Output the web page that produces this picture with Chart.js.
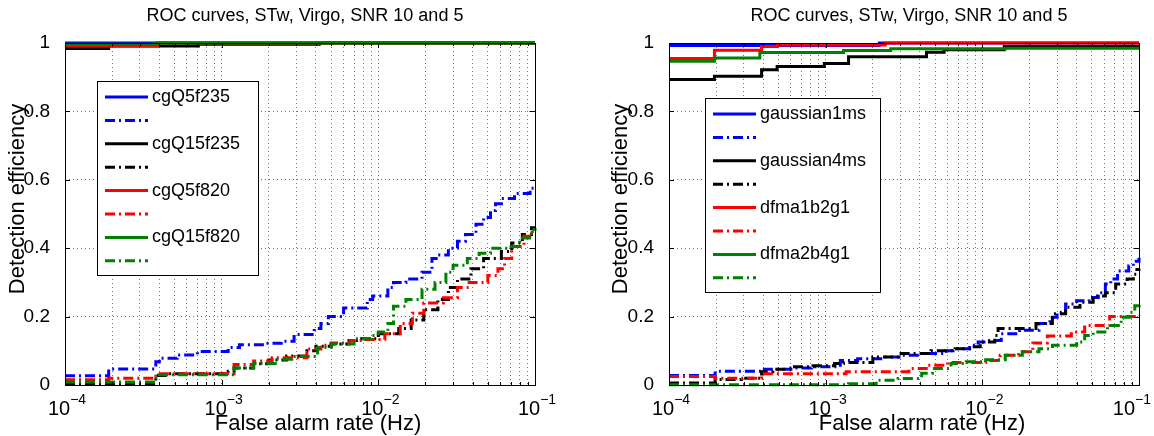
<!DOCTYPE html>
<html>
<head>
<meta charset="utf-8">
<script src="https://cdn.jsdelivr.net/npm/chart.js@4.4.1/dist/chart.umd.min.js"></script>
<style>
  body { margin: 0; background: #fff; width: 1154px; height: 436px; position: relative; overflow: hidden; }
  .panel { position: absolute; top: 0; width: 577px; height: 436px; }
  #leftPanel { left: 0; }
  #rightPanel { left: 577px; }
</style>
</head>
<body>
<div class="panel" id="leftPanel"><canvas id="rocLeft"></canvas></div>
<div class="panel" id="rightPanel"><canvas id="rocRight"></canvas></div>
<script>
// x axis: false alarm rate, log scale
const decades = [1e-4, 1e-3, 1e-2, 1e-1];
const minorSteps = [2, 3, 4, 5, 6, 7, 8, 9];
const yTicks = [0, 0.2, 0.4, 0.6, 0.8, 1];

const chartTitle = "ROC curves, STw, Virgo, SNR 10 and 5";
const xLabel = "False alarm rate (Hz)";
const yLabel = "Detection efficiency";

// left panel: [false alarm rate, efficiency] at each step (SNR 10 solid, SNR 5 dash-dot)
const leftNames = ["cgQ5f235", "cgQ15f235", "cgQ5f820", "cgQ15f820"];
const cgQ5f235Snr10 = [[1e-4, 1], [1e-1, 1]];
const cgQ5f235Snr5 = [[1e-4, 0.027], [1.9e-4, 0.047], [3.8e-4, 0.068], [4.0e-4, 0.078], [5.2e-4, 0.088],
  [7e-4, 0.098], [1.1e-3, 0.11], [1.3e-3, 0.118], [1.9e-3, 0.122], [2.4e-3, 0.128], [2.9e-3, 0.148],
  [3.9e-3, 0.165], [4.3e-3, 0.18], [4.8e-3, 0.2], [6e-3, 0.225], [8.5e-3, 0.25], [9.2e-3, 0.26],
  [1.15e-2, 0.285], [1.25e-2, 0.3], [1.5e-2, 0.31], [1.9e-2, 0.33], [2.2e-2, 0.37], [2.4e-2, 0.38],
  [2.8e-2, 0.4], [3.2e-2, 0.42], [3.6e-2, 0.44], [4.2e-2, 0.47], [4.7e-2, 0.49], [5.2e-2, 0.51],
  [5.6e-2, 0.53], [6.1e-2, 0.545], [7.4e-2, 0.56], [9.3e-2, 0.575], [1e-1, 0.58]];
const cgQ15f235Snr10 = [[1e-4, 0.984], [1.9e-4, 0.991], [7.1e-4, 0.996], [4.2e-3, 1], [1e-1, 1]];
const cgQ15f235Snr5 = [[1e-4, 0.004], [3.8e-4, 0.028], [4.6e-4, 0.033], [1.1e-3, 0.04], [1.2e-3, 0.05],
  [1.6e-3, 0.062], [2e-3, 0.073], [2.6e-3, 0.085], [3.5e-3, 0.1], [4e-3, 0.113], [5e-3, 0.12],
  [6.5e-3, 0.13], [7.5e-3, 0.135], [1e-2, 0.15], [1.35e-2, 0.165], [1.62e-2, 0.19], [1.95e-2, 0.22],
  [2.4e-2, 0.25], [2.8e-2, 0.285], [3.2e-2, 0.31], [3.9e-2, 0.34], [4.7e-2, 0.37], [6.1e-2, 0.39],
  [7.1e-2, 0.415], [8.3e-2, 0.44], [9.5e-2, 0.46], [1e-1, 0.46]];
const cgQ5f820Snr10 = [[1e-4, 0.991], [3.9e-4, 1], [1e-1, 1]];
const cgQ5f820Snr5 = [[1e-4, 0.015], [1.9e-4, 0.02], [3.8e-4, 0.033], [1.2e-3, 0.06], [1.6e-3, 0.07],
  [2.1e-3, 0.08], [3.5e-3, 0.105], [4.3e-3, 0.116], [5e-3, 0.123], [6.6e-3, 0.13], [8.2e-3, 0.133],
  [1.1e-2, 0.15], [1.38e-2, 0.18], [1.65e-2, 0.21], [1.95e-2, 0.24], [2.6e-2, 0.255], [3.2e-2, 0.285],
  [3.8e-2, 0.3], [5e-2, 0.32], [5.8e-2, 0.34], [6.4e-2, 0.37], [7.1e-2, 0.405], [8.5e-2, 0.435],
  [9.6e-2, 0.455], [1e-1, 0.455]];
const cgQ15f820Snr10 = [[1e-4, 0.996], [3.8e-4, 1], [1e-1, 1]];
const cgQ15f820Snr5 = [[1e-4, 0.009], [3.8e-4, 0.03], [1.2e-3, 0.05], [1.6e-3, 0.063], [2.2e-3, 0.075],
  [2.8e-3, 0.083], [4.1e-3, 0.11], [5e-3, 0.12], [7e-3, 0.135], [9e-3, 0.145], [1e-2, 0.155],
  [1.15e-2, 0.18], [1.25e-2, 0.23], [1.5e-2, 0.25], [1.9e-2, 0.28], [2.3e-2, 0.3], [2.7e-2, 0.33],
  [3e-2, 0.35], [3.7e-2, 0.37], [4.4e-2, 0.385], [5.2e-2, 0.4], [6.8e-2, 0.405], [8e-2, 0.43],
  [9.5e-2, 0.455], [1e-1, 0.46]];

// right panel
const rightNames = ["gaussian1ms", "gaussian4ms", "dfma1b2g1", "dfma2b4g1"];
const gaussian1msSnr10 = [[1e-4, 0.993], [2.2e-3, 1], [1e-1, 1]];
const gaussian1msSnr5 = [[1e-4, 0.028], [1.97e-4, 0.04], [3.9e-4, 0.046], [6e-4, 0.05], [8.1e-4, 0.053],
  [1.24e-3, 0.072], [1.6e-3, 0.077], [2.3e-3, 0.082], [3.1e-3, 0.087], [4.1e-3, 0.092], [5.9e-3, 0.1],
  [6.5e-3, 0.106], [8.3e-3, 0.116], [9.4e-3, 0.126], [1.05e-2, 0.13], [1.32e-2, 0.15], [1.73e-2, 0.16],
  [2.3e-2, 0.18], [2.7e-2, 0.198], [3e-2, 0.213], [3.4e-2, 0.237], [4e-2, 0.246], [4.8e-2, 0.256],
  [5.5e-2, 0.27], [6.1e-2, 0.295], [6.6e-2, 0.31], [7.3e-2, 0.333], [8.6e-2, 0.348], [9.2e-2, 0.362],
  [1e-1, 0.372]];
const gaussian4msSnr10 = [[1e-4, 0.893], [1.95e-4, 0.903], [3.9e-4, 0.922], [4.9e-4, 0.931], [9.8e-4, 0.94],
  [1.4e-3, 0.96], [4.4e-3, 0.973], [5.7e-3, 0.98], [1.38e-2, 0.99], [1e-1, 0.99]];
const gaussian4msSnr5 = [[1e-4, 0.006], [1.97e-4, 0.016], [2.9e-4, 0.02], [3.9e-4, 0.039], [4.6e-4, 0.046],
  [6.1e-4, 0.053], [8.3e-4, 0.056], [1.14e-3, 0.063], [1.3e-3, 0.066], [2e-3, 0.082], [2.9e-3, 0.092],
  [4.7e-3, 0.1], [6.7e-3, 0.106], [8.5e-3, 0.112], [9.7e-3, 0.126], [1.2e-2, 0.145], [1.26e-2, 0.165],
  [2.2e-2, 0.18], [2.8e-2, 0.208], [3.4e-2, 0.227], [4.2e-2, 0.242], [5.1e-2, 0.26], [6.1e-2, 0.27],
  [7.1e-2, 0.295], [8.4e-2, 0.31], [9.2e-2, 0.324], [9.7e-2, 0.338], [1e-1, 0.34]];
const dfma1b2g1Snr10 = [[1e-4, 0.955], [1.95e-4, 0.979], [3.9e-4, 0.99], [4.9e-4, 0.994], [2.4e-3, 1], [1e-1, 1]];
const dfma1b2g1Snr5 = [[1e-4, 0.025], [1.97e-4, 0.02], [3.9e-4, 0.033], [1.35e-3, 0.039], [3.4e-3, 0.048],
  [4.5e-3, 0.058], [6e-3, 0.066], [1.05e-2, 0.072], [1.3e-2, 0.087], [1.7e-2, 0.097], [2.1e-2, 0.123],
  [2.6e-2, 0.143], [3.7e-2, 0.155], [4.5e-2, 0.174], [6.5e-2, 0.2], [1e-1, 0.203]];
const dfma2b4g1Snr10 = [[1e-4, 0.947], [1.95e-4, 0.956], [3.8e-4, 0.972], [1.3e-3, 0.978], [2.6e-3, 0.983],
  [1.4e-2, 0.985], [1e-1, 0.985]];
const dfma2b4g1Snr5 = [[1e-4, 0.001], [1.4e-3, 0.004], [2.1e-3, 0.014], [2.9e-3, 0.019], [4.1e-3, 0.034],
  [4.8e-3, 0.048], [6.3e-3, 0.063], [7.9e-3, 0.068], [1.05e-2, 0.074], [1.4e-2, 0.087], [1.8e-2, 0.097],
  [2.3e-2, 0.106], [2.8e-2, 0.116], [4e-2, 0.126], [4.5e-2, 0.145], [5.1e-2, 0.155], [6.3e-2, 0.174],
  [7.7e-2, 0.198], [8.8e-2, 0.213], [9.4e-2, 0.232], [1e-1, 0.24]];

const colors = ["#0000ff", "#000000", "#ff0000", "#008000"];
const dashDot = [10, 4, 2, 4];
const fontFamily = "'Liberation Sans', Arial, Helvetica, sans-serif";

function curve(label, pts, color, dashed, order) {
  return {
    label: label,
    data: pts.map((p) => ({ x: p[0], y: p[1] })),
    borderColor: color,
    borderWidth: 3,
    borderDash: dashed ? dashDot : [],
    stepped: true,
    pointRadius: 0,
    fill: false,
    clip: false,
    order: order,
  };
}

function buildDatasets(names, solid, dashed) {
  const sets = [];
  names.forEach((name, i) => {
    // later curves are drawn on top
    sets.push(curve(name, solid[i], colors[i], false, 8 - 2 * i));
    sets.push(curve("", dashed[i], colors[i], true, 7 - 2 * i));
  });
  return sets;
}

// box, inner tick marks, texts with superscripts and the boxed legend
const matlabAxes = {
  id: "matlabAxes",
  afterDraw(chart, args, opts) {
    const { ctx, chartArea: a } = chart;
    const xs = chart.scales.x;
    const ys = chart.scales.y;
    const midX = (a.left + a.right) / 2;
    ctx.save();
    ctx.strokeStyle = "#000";
    ctx.lineWidth = 1;
    ctx.setLineDash([]);
    ctx.beginPath();
    xs.ticks.forEach((t) => {
      const px = Math.round(xs.getPixelForValue(t.value)) + 0.5;
      const len = decades.includes(t.value) ? 5 : 3;
      ctx.moveTo(px, a.bottom); ctx.lineTo(px, a.bottom - len);
      ctx.moveTo(px, a.top); ctx.lineTo(px, a.top + len);
    });
    ys.ticks.forEach((t) => {
      const py = Math.round(ys.getPixelForValue(t.value)) + 0.5;
      ctx.moveTo(a.left, py); ctx.lineTo(a.left + 5, py);
      ctx.moveTo(a.right, py); ctx.lineTo(a.right - 5, py);
    });
    ctx.stroke();
    ctx.strokeRect(a.left + 0.5, a.top + 0.5, a.right - a.left, a.bottom - a.top);

    ctx.fillStyle = "#000";
    // title
    ctx.textAlign = "center";
    ctx.textBaseline = "middle";
    ctx.font = "18px " + fontFamily;
    ctx.fillText(chartTitle, midX + 5, 16);

    // axis titles
    ctx.font = "22px " + fontFamily;
    ctx.fillText(xLabel, midX + 18, 424);
    ctx.save();
    ctx.translate(opts.yLabelX, (a.top + a.bottom) / 2 - 15);
    ctx.rotate(-Math.PI / 2);
    ctx.fillText(yLabel, 0, 0);
    ctx.restore();

    // 10^n labels, kept inside the canvas at the right edge
    ctx.textBaseline = "alphabetic";
    ctx.textAlign = "left";
    decades.forEach((v) => {
      const px = xs.getPixelForValue(v);
      const exp = "\u2212" + Math.round(-Math.log10(v));
      ctx.font = "20px " + fontFamily;
      const wBase = ctx.measureText("10").width;
      ctx.font = "14px " + fontFamily;
      const wExp = ctx.measureText(exp).width;
      const x0 = Math.min(px - (wBase + wExp) / 2 + 2, chart.width - wBase - wExp - 3);
      ctx.font = "20px " + fontFamily;
      ctx.fillText("10", x0, a.bottom + 30);
      ctx.font = "14px " + fontFamily;
      ctx.fillText(exp, x0 + wBase, a.bottom + 19);
    });

    // legend
    const lg = opts.legend;
    const bx = a.left + lg.x, by = a.top + lg.y;
    ctx.fillStyle = "#fff";
    ctx.fillRect(bx, by, lg.w, lg.h);
    ctx.strokeStyle = "#000";
    ctx.lineWidth = 1;
    ctx.strokeRect(bx + 0.5, by + 0.5, lg.w, lg.h);
    ctx.font = "18px " + fontFamily;
    ctx.textBaseline = "middle";
    chart.data.datasets.forEach((ds, i) => {
      const ry = by + lg.first + i * lg.step;
      ctx.strokeStyle = ds.borderColor;
      ctx.lineWidth = 3;
      ctx.setLineDash(ds.borderDash);
      ctx.beginPath();
      ctx.moveTo(bx + 8, ry);
      ctx.lineTo(bx + 51, ry);
      ctx.stroke();
      ctx.setLineDash([]);
      if (ds.label) {
        ctx.fillStyle = "#000";
        ctx.fillText(ds.label, bx + 55, ry);
      }
    });
    ctx.restore();
  },
};

function makeChart(id, datasets, axisWidth, rightPad, yLabelX, legend) {
  const xTickValues = [];
  decades.forEach((d, i) => {
    xTickValues.push(d);
    if (i < decades.length - 1) minorSteps.forEach((m) => xTickValues.push(m * d));
  });
  return new Chart(document.getElementById(id), {
    type: "line",
    data: { datasets: datasets },
    plugins: [matlabAxes],
    options: {
      responsive: true,
      maintainAspectRatio: false,
      animation: false,
      events: [],
      layout: { padding: { left: 0, right: rightPad, top: 43, bottom: 0 } },
      plugins: {
        legend: { display: false },
        tooltip: { enabled: false },
        title: { display: false },
        matlabAxes: { legend: legend, yLabelX: yLabelX },
      },
      scales: {
        x: {
          type: "logarithmic",
          min: 1e-4,
          max: 1e-1,
          afterBuildTicks: (s) => { s.ticks = xTickValues.map((v) => ({ value: v })); },
          afterFit: (s) => { s.height = 51; },
          ticks: { display: false },
          grid: { color: "rgba(0,0,0,0.55)", drawTicks: false, lineWidth: 1 },
          border: { display: false, dash: [1, 3] },
        },
        y: {
          min: 0,
          max: 1,
          afterBuildTicks: (s) => { s.ticks = yTicks.map((v) => ({ value: v })); },
          afterFit: (s) => { s.width = axisWidth; },
          ticks: {
            color: "#000",
            padding: 15,
            font: { family: fontFamily, size: 19 },
            callback: (v) => String(v),
          },
          grid: { color: "rgba(0,0,0,0.55)", drawTicks: false, lineWidth: 1 },
          border: { display: false, dash: [1, 3] },
        },
      },
    },
  });
}

makeChart("rocLeft",
  buildDatasets(leftNames,
    [cgQ5f235Snr10, cgQ15f235Snr10, cgQ5f820Snr10, cgQ15f820Snr10],
    [cgQ5f235Snr5, cgQ15f235Snr5, cgQ5f820Snr5, cgQ15f820Snr5]),
  65, 42, 18,
  { x: 32, y: 38, w: 161, h: 194, first: 16, step: 23.4 });

makeChart("rocRight",
  buildDatasets(rightNames,
    [gaussian1msSnr10, gaussian4msSnr10, dfma1b2g1Snr10, dfma2b4g1Snr10],
    [gaussian1msSnr5, gaussian4msSnr5, dfma1b2g1Snr5, dfma2b4g1Snr5]),
  92, 15, 44,
  { x: 36, y: 55, w: 175, h: 194, first: 16, step: 23.4 });
</script>
</body>
</html>
